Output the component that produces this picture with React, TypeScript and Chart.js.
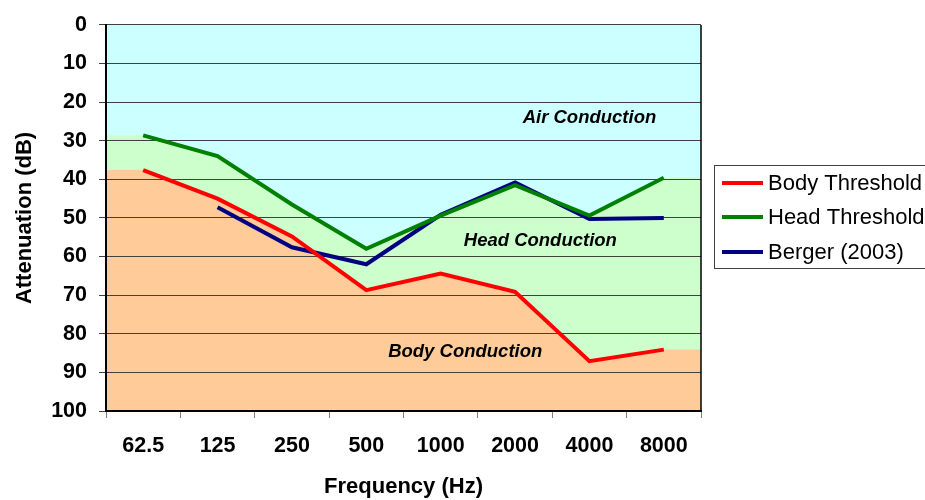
import React, { useEffect, useRef } from "react";
import { Chart, registerables } from "chart.js";

Chart.register(...registerables);

const categories = ["62.5", "125", "250", "500", "1000", "2000", "4000", "8000"];
const bodyThreshold = [37.6, 45.0, 54.8, 68.7, 64.4, 69.1, 87.1, 84.1];
const headThreshold = [28.6, 34.0, 46.5, 58.0, 49.4, 41.5, 49.4, 39.6];
const berger2003 = [null, 47.2, 57.6, 62.0, 49.2, 40.8, 50.3, 50.0];
const seriesNames = ["Body Threshold", "Head Threshold", "Berger (2003)"];
const regionNames = ["Air Conduction", "Head Conduction", "Body Conduction"];
const yMin = 0;
const yMax = 100;
const yStep = 10;

const FONT = "'Liberation Sans', Arial, sans-serif";

function bandEdge(values: number[]) {
  const pts = values.map((v, i) => ({ x: i + 0.5, y: v }));
  return [{ x: 0, y: values[0] }, ...pts, { x: values.length, y: values[values.length - 1] }];
}

const overlayPlugin = {
  id: "overlay",
  afterDatasetsDraw(chart: any) {
    const { ctx, chartArea, scales } = chart;
    const x2 = scales.x2;
    const y = scales.y;
    ctx.save();
    ctx.strokeStyle = "#000";
    ctx.lineWidth = 1.5;
    ctx.beginPath();
    ctx.moveTo(chartArea.right, chartArea.top);
    ctx.lineTo(chartArea.right, chartArea.bottom);
    ctx.stroke();
    const anchors = [
      [6.5, 24],
      [5.84, 56],
      [4.83, 84.8],
    ];
    ctx.fillStyle = "#000";
    ctx.font = `italic bold 18.5px ${FONT}`;
    ctx.textAlign = "center";
    ctx.textBaseline = "middle";
    regionNames.forEach((t, i) => {
      ctx.fillText(t, x2.getPixelForValue(anchors[i][0]), y.getPixelForValue(anchors[i][1]));
    });
    ctx.restore();
  },
  afterDraw(chart: any) {
    const { ctx } = chart;
    ctx.save();
    const bx = 714.5, by = 165.5, bw = 220, bh = 103;
    ctx.strokeStyle = "#404040";
    ctx.lineWidth = 1;
    ctx.strokeRect(bx, by, bw, bh);
    const rows = [183, 217, 252];
    ctx.font = `22px ${FONT}`;
    ctx.textAlign = "left";
    ctx.textBaseline = "middle";
    for (let i = 0; i < 3; i++) {
      const ds = chart.data.datasets[i];
      ctx.strokeStyle = ds.borderColor;
      ctx.lineWidth = 4;
      ctx.beginPath();
      ctx.moveTo(722, rows[i]);
      ctx.lineTo(763, rows[i]);
      ctx.stroke();
      ctx.fillStyle = "#000";
      ctx.fillText(ds.label, 768, rows[i] + 1);
    }
    ctx.restore();
  },
};

export default function App() {
  const ref = useRef<HTMLCanvasElement | null>(null);
  useEffect(() => {
    if (!ref.current) return;
    const lineCommon = {
      type: "line",
      xAxisID: "x",
      yAxisID: "y",
      borderWidth: 4,
      pointRadius: 0,
      fill: false,
      tension: 0,
      order: 0,
    };
    const bandCommon = {
      type: "line",
      xAxisID: "x2",
      yAxisID: "y",
      borderWidth: 0,
      pointRadius: 0,
      fill: { value: yMax },
      tension: 0,
    };
    const chart = new Chart(ref.current, {
      type: "line",
      data: {
        labels: categories,
        datasets: [
          { ...lineCommon, label: seriesNames[0], data: bodyThreshold, borderColor: "#FF0000" },
          { ...lineCommon, label: seriesNames[1], data: headThreshold, borderColor: "#008000" },
          { ...lineCommon, label: seriesNames[2], data: berger2003, borderColor: "#000080", spanGaps: true },
          { ...bandCommon, label: regionNames[1], data: bandEdge(headThreshold), backgroundColor: "#CCFFCC", borderColor: "rgba(0,0,0,0)", order: 2 },
          { ...bandCommon, label: regionNames[2], data: bandEdge(bodyThreshold), backgroundColor: "#FFCC99", borderColor: "rgba(0,0,0,0)", order: 1 },
          { ...bandCommon, label: regionNames[0], data: [{ x: 0, y: yMin }, { x: categories.length, y: yMin }], backgroundColor: "#CCFFFF", borderColor: "rgba(0,0,0,0)", order: 3 },
        ] as any,
      },
      options: {
        responsive: false,
        animation: false,
        devicePixelRatio: 1,
        events: [],
        layout: { padding: { left: 0, top: 22, right: 224, bottom: 0 } },
        plugins: {
          legend: { display: false },
          tooltip: { enabled: false },
          filler: { drawTime: "beforeDraw" } as any,
        },
        scales: {
          x: {
            type: "category",
            offset: true,
            grid: { drawOnChartArea: false, offset: true, tickLength: 7, color: "#808080" },
            border: { display: true, color: "#000", width: 2 },
            ticks: { color: "#000", padding: 15, font: { family: FONT, size: 21.5, weight: "bold" } },
            title: {
              display: true,
              text: "Frequency (Hz)",
              color: "#000",
              font: { family: FONT, size: 22, weight: "bold" },
              padding: { top: 0, bottom: 0 },
            },
            afterFit: (s: any) => { s.height = 89; },
          },
          x2: { type: "linear", min: 0, max: categories.length, display: false },
          y: {
            type: "linear",
            reverse: true,
            min: yMin,
            max: yMax,
            grid: { color: "#404040", lineWidth: 1, tickLength: 7 },
            border: { display: true, color: "#000", width: 2 },
            ticks: { stepSize: yStep, color: "#000", padding: 12, font: { family: FONT, size: 21.5, weight: "bold" } },
            title: {
              display: true,
              text: "Attenuation (dB)",
              color: "#000",
              font: { family: FONT, size: 22, weight: "bold" },
              padding: { top: 12, bottom: 0 },
            },
            afterFit: (s: any) => { s.width = 106; },
          },
        } as any,
      },
      plugins: [overlayPlugin],
    } as any);
    return () => chart.destroy();
  }, []);
  return (
    <div style={{ position: "absolute", left: 0, top: 0, width: 925, height: 500, background: "#fff" }}>
      <canvas ref={ref} width={925} height={500} />
    </div>
  );
}
